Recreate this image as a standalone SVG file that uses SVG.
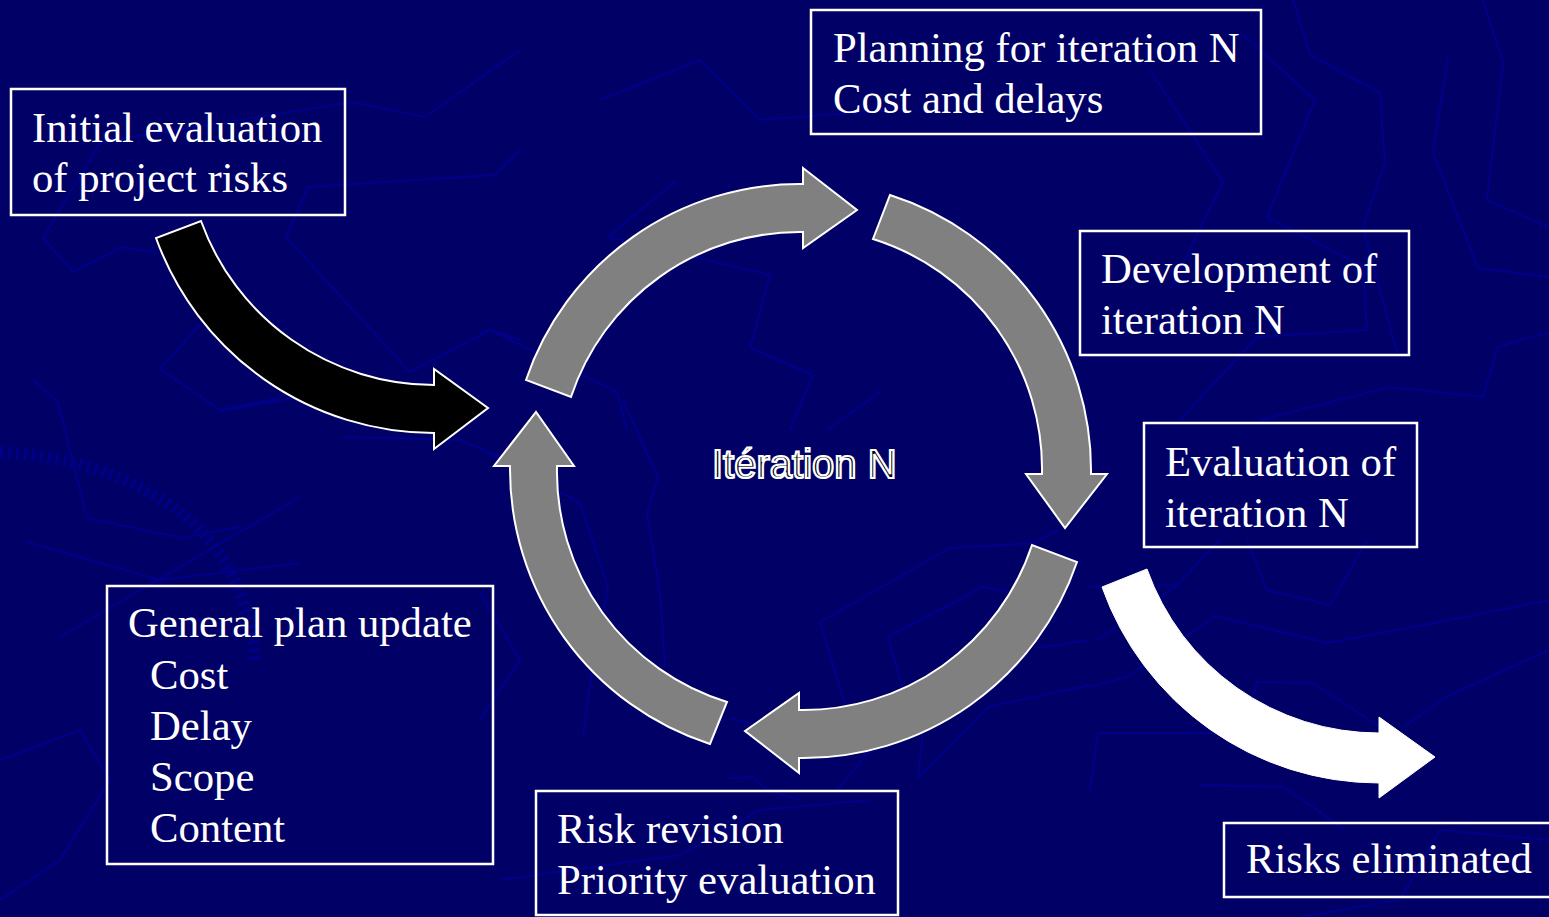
<svg xmlns="http://www.w3.org/2000/svg" width="1549" height="917" viewBox="0 0 1549 917">
  <style>
    .bg-line { fill: none; stroke: #00008c; stroke-width: 2; stroke-linejoin: round; }
    .box rect { fill: none; stroke: #ffffff; stroke-width: 2.5; }
    .box text { font-family: "Liberation Serif", "Times New Roman", serif; font-size: 42.7px; fill: #ffffff; }
    .cycle { fill: #808080; stroke: #ffffff; stroke-width: 2; stroke-linejoin: miter; }
    .entry { fill: #000000; stroke: #ffffff; stroke-width: 2; }
    .exit { fill: #ffffff; stroke: #ffffff; stroke-width: 1; }
    .title { font-family: "Liberation Sans", Arial, sans-serif; font-size: 40px; fill: #000000; stroke: #ffffff; stroke-width: 2.2; }
  </style>

  <!-- slide background -->
  <rect x="0" y="0" width="1549" height="917" fill="#000066"/>

  <!-- faint decorative background texture -->
  <g id="texture">
    <polyline class="bg-line" points="520,50 425,117 353,102 133,137 100,143 43,238 73,272 122,247 157,253"/>
    <polyline class="bg-line" points="520,150 495,175 308,187 286,237 410,372 490,330 520,340"/>
    <polyline class="bg-line" points="200,325 160,369 220,410 280,398"/>
    <polyline class="bg-line" points="343,437 460,440 500,457"/>
    <polyline class="bg-line" points="677,180 608,237 770,275 750,348 813,375 790,430"/>
    <polyline class="bg-line" points="480,333 490,330 617,392 627,430"/>
    <polyline class="bg-line" points="880,392 827,430"/>
    <polyline class="bg-line" points="480,448 580,503 608,587 590,683 583,737"/>
    <polyline class="bg-line" points="623,400 658,477 647,513 660,593 665,667"/>
    <polyline class="bg-line" points="480,593 520,660 480,720"/>
    <polyline class="bg-line" points="33,380 58,402 87,518 182,538 240,527"/>
    <polyline class="bg-line" points="220,411 300,397"/>
    <polyline class="bg-line" points="27,542 160,580 300,563"/>
    <polyline class="bg-line" points="60,637 300,497"/>
    <polyline class="bg-line" points="1293,0 1310,55 1380,93 1385,163 1363,227 1397,353"/>
    <polyline class="bg-line" points="1240,32 1315,100 1267,217 1363,267 1367,330 1257,337 1180,420"/>
    <polyline class="bg-line" points="1483,0 1503,63 1487,200 1549,227"/>
    <polyline class="bg-line" points="1448,57 1433,153 1478,268 1549,277"/>
    <polyline class="bg-line" points="1549,333 1538,335 1498,347 1483,397 1390,387 1260,420"/>
    <polyline class="bg-line" points="1150,70 1223,182 1170,290"/>
    <polyline class="bg-line" points="1090,587 1177,585 1220,540"/>
    <polyline class="bg-line" points="1097,640 1178,585"/>
    <polyline class="bg-line" points="1090,687 1127,677 1215,616 1328,643 1450,620 1549,600"/>
    <polyline class="bg-line" points="1247,540 1267,590 1330,605 1367,540"/>
    <polyline class="bg-line" points="1549,650 1450,695 1403,727"/>
    <polyline class="bg-line" points="1253,697 1257,682 1313,683 1380,727"/>
    <polyline class="bg-line" points="1090,790 1098,733 1217,733"/>
    <polyline class="bg-line" points="1200,785 1283,787 1317,810 1345,830"/>
    <polyline class="bg-line" points="1549,840 1440,830 1400,900 1300,917"/>
    <polyline class="bg-line" points="1058,530 1033,543 950,548 820,622 845,705"/>
    <polyline class="bg-line" points="888,637 983,587 1013,593"/>
    <polyline class="bg-line" points="888,637 903,690"/>
    <polyline class="bg-line" points="918,778 923,730"/>
    <polyline class="bg-line" points="918,778 988,707 1090,685"/>
    <polyline class="bg-line" points="730,718 753,725"/>
    <polyline class="bg-line" points="1037,648 1090,640"/>
    <polyline class="bg-line" points="730,778 753,777 767,790 800,800"/>
    <polyline class="bg-line" points="873,747 837,790"/>
    <polyline class="bg-line" points="500,880 680,855 760,810 870,800"/>
    <polyline class="bg-line" points="0,760 80,730 110,780 60,860 0,900"/>
    <polyline class="bg-line" points="600,100 700,60 760,120 890,110"/>
    <!-- compass tick ring -->
    <path d="M0,452 C70,455 150,480 200,530 C235,565 250,610 255,660" fill="none" stroke="#00008c" stroke-width="12" stroke-dasharray="3 5"/>
  </g>

  <!-- text boxes -->
  <g id="initial-evaluation" class="box">
    <rect x="11" y="89" width="334" height="126"/>
    <text x="32" y="142">Initial evaluation</text>
    <text x="32" y="192">of project risks</text>
  </g>

  <g id="planning" class="box">
    <rect x="811" y="10" width="450" height="124"/>
    <text x="833" y="62">Planning for iteration N</text>
    <text x="833" y="113">Cost and delays</text>
  </g>

  <g id="development" class="box">
    <rect x="1080" y="231" width="329" height="124"/>
    <text x="1101" y="283">Development of</text>
    <text x="1101" y="334">iteration N</text>
  </g>

  <g id="evaluation" class="box">
    <rect x="1144" y="423" width="273" height="124"/>
    <text x="1165" y="476">Evaluation of</text>
    <text x="1165" y="527">iteration N</text>
  </g>

  <g id="plan-update" class="box">
    <rect x="107" y="586" width="386" height="278"/>
    <text x="128" y="637">General plan update</text>
    <text x="150" y="689">Cost</text>
    <text x="150" y="740">Delay</text>
    <text x="150" y="791">Scope</text>
    <text x="150" y="842">Content</text>
  </g>

  <g id="risk-revision" class="box">
    <rect x="536" y="791" width="362" height="124"/>
    <text x="557" y="843">Risk revision</text>
    <text x="557" y="894">Priority evaluation</text>
  </g>

  <g id="risks-eliminated" class="box">
    <rect x="1224" y="823" width="328" height="74"/>
    <text x="1246" y="873">Risks eliminated</text>
  </g>

  <!-- centre label -->
  <g id="iteration-label">
    <text class="title" x="712" y="478">Itération N</text>
  </g>

  <!-- curved block arrows -->
  <g id="connectors">
    <!-- into the cycle -->
    <path class="entry" d="M156,238 A296,296 0 0 0 434,433 L434,449 L488,408 L434,369 L434,385 A248,248 0 0 1 201,221 Z"/>
    <!-- cycle: left to top -->
    <path class="cycle" d="M526,380 A289,289 0 0 1 803,184 L803,168 L857,210 L803,248 L803,232 A241,241 0 0 0 571,397 Z"/>
    <!-- cycle: top to right -->
    <path class="cycle" d="M890,195 A289,289 0 0 1 1091,474 L1107,474 L1065,528 L1026,474 L1042,474 A241,241 0 0 0 873,239 Z"/>
    <!-- cycle: right to bottom -->
    <path class="cycle" d="M1077,562 A289,289 0 0 1 799,758 L799,773 L745,731 L799,693 L799,710 A241,241 0 0 0 1032,545 Z"/>
    <!-- cycle: bottom to left -->
    <path class="cycle" d="M710,744 A289,289 0 0 1 510,466 L494,466 L536,412 L574,466 L557,466 A241,241 0 0 0 727,702 Z"/>
    <!-- out of the cycle -->
    <path class="exit" d="M1102,587 A294,294 0 0 0 1379,783 L1379,798 L1435,757 L1379,717 L1379,733 A246,246 0 0 1 1147,569 Z"/>
  </g>
</svg>
